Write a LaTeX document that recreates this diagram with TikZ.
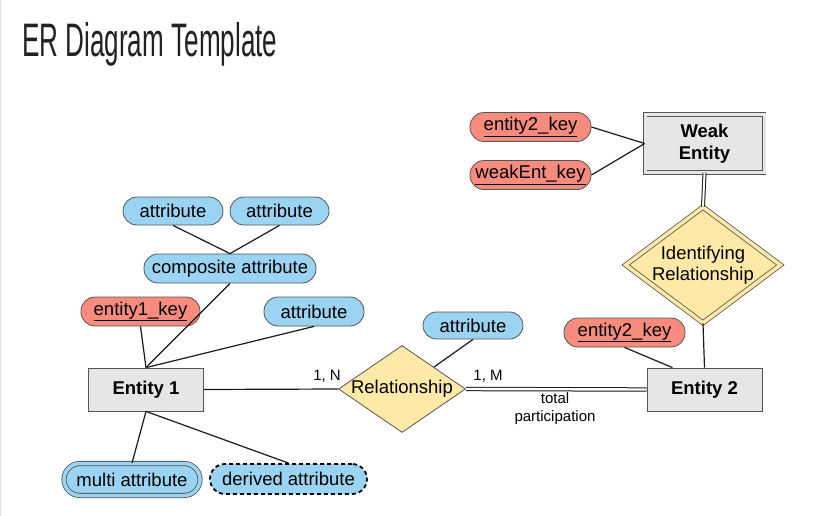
\documentclass[tikz,border=0pt]{standalone}
\usepackage{fontspec}
\setmainfont{Liberation Sans}
\usepackage{graphicx}
\usetikzlibrary{shapes.geometric,calc}
\definecolor{attrblue}{HTML}{9BD4F2}
\definecolor{keyred}{HTML}{F78C7E}
\definecolor{relyellow}{HTML}{FFE9A6}
\definecolor{entgray}{HTML}{E6E6E6}
\definecolor{bordergray}{HTML}{555555}
\definecolor{linedark}{HTML}{1A1A1A}
\definecolor{titledark}{HTML}{222222}
\tikzset{
  x=1pt, y=-1pt,
  txt/.style={font=\fontsize{18.5}{21}\selectfont, text=black, inner sep=0pt, align=center},
  small/.style={font=\fontsize{15}{18}\selectfont, text=black, inner sep=0pt, align=center},
  stadium/.style={txt, draw=bordergray, line width=0.8pt, rounded corners=14pt, minimum height=29pt},
  attr/.style={stadium, fill=attrblue},
  keyattr/.style={stadium, fill=keyred},
  entity/.style={txt, font=\fontsize{18.5}{22}\selectfont\bfseries, draw=bordergray, line width=0.8pt, fill=entgray, minimum width=115pt, minimum height=43pt},
  relation/.style={txt, diamond, draw=bordergray, line width=0.8pt, fill=relyellow},
  conn/.style={draw=linedark, line width=1.2pt},
  dbl/.style={draw=linedark, line width=1pt, double=white, double distance=2.4pt},
}
\begin{document}
\begin{tikzpicture}
\useasboundingbox (0,0) rectangle (821,516);
\fill[white] (0,0) rectangle (821,516);
\draw[color=black!12, line width=1pt] (0.5,0) -- (0.5,516);

% title
\node[anchor=base west, inner sep=0pt, text=titledark, font=\fontsize{47}{52}\selectfont] (title) at (22,57) {\scalebox{0.555}[1]{ER Diagram Template}};

% entities
\node[entity] (e1) at (146,389.5) {Entity 1};
\node[entity] (e2) at (704.5,389.5) {Entity 2};
\node[entity, minimum width=119pt, minimum height=58pt, double=entgray, double distance=3pt] (weak) at (704.5,143.5) {Weak\\Entity};

% relationships
\node[relation, aspect=1.46, minimum width=126pt, minimum height=86pt] (rel) at (402,389) {Relationship};
\node[relation, aspect=1.33, minimum width=155pt, minimum height=116pt, double=relyellow, double distance=3.5pt] (idrel) at (703,265) {Identifying\\Relationship};

% attributes
\node[attr, minimum width=100pt, minimum height=28pt] (a1) at (173,211) {attribute};
\node[attr, minimum width=99pt, minimum height=28pt] (a2) at (279.5,211) {attribute};
\node[attr, minimum width=172pt] (comp) at (230,268.5) {composite attribute};
\node[keyattr, minimum width=119pt] (k1) at (140.5,311.5) {\underline{entity1\_key}};
\node[attr, minimum width=100pt] (a3) at (314,311.5) {attribute};
\node[keyattr, minimum width=121pt] (k2a) at (530.5,127) {\underline{entity2\_key}};
\node[keyattr, minimum width=121pt] (k2b) at (530.5,175) {\underline{weakEnt\_key}};
\node[attr, minimum width=100pt, minimum height=27pt, rounded corners=13.5pt] (ar) at (473,325.5) {attribute};
\node[keyattr, minimum width=121pt] (k3) at (624.5,332.5) {\underline{entity2\_key}};
\node[attr, minimum width=136pt, minimum height=32pt, rounded corners=16pt, double=attrblue, double distance=3.5pt] (multi) at (132,479.5) {multi attribute};
\node[attr, draw=black, line width=1.8pt, dash pattern=on 4pt off 3pt, minimum width=157pt, minimum height=30pt, rounded corners=15pt] (derived) at (288.5,479) {derived attribute};

% connectors
\draw[conn] (a1.south) -- (comp.north);
\draw[conn] (a2.south) -- (comp.north);
\draw[conn] (comp.south) -- (e1.north);
\draw[conn] (k1.south) -- (e1.north);
\draw[conn] (a3.south) -- (e1.north);
\draw[conn] (e1.south) -- (multi.north);
\draw[conn] (e1.south) -- (derived.north);
\draw[conn] (e1.east) -- (rel.west);
\draw[conn] (ar.south) -- (rel.north east);
\draw[dbl] (rel.east) -- (e2.west);
\draw[conn] (k3.south) -- ([xshift=-32pt]e2.north);
\draw[conn] (idrel.south) -- (e2.north);
\draw[dbl, double distance=2pt] (weak.south) -- (idrel.north);
\draw[conn] (k2a.east) -- (weak.west);
\draw[conn] (k2b.east) -- (weak.west);

% labels
\node[small] (n1) at (327,376) {1, N};
\node[small] (m1) at (488,376) {1, M};
\node[small] (tp) at (555,409) {total\\participation};
\end{tikzpicture}
\end{document}
